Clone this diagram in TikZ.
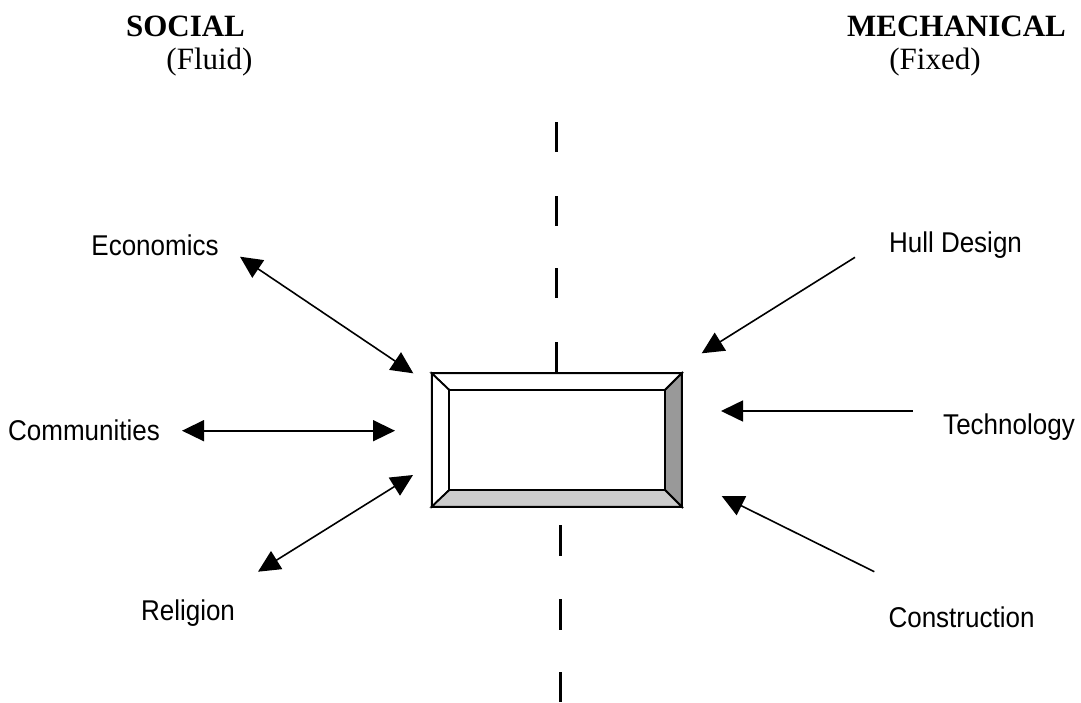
\documentclass[tikz,border=0pt]{standalone}
\usepackage{fontspec}
\setmainfont{Liberation Serif}
\newfontfamily\labelfont{Liberation Sans}
\usetikzlibrary{arrows.meta}
\definecolor{bevdark}{HTML}{999999}
\definecolor{bevlight}{HTML}{CCCCCC}
\newcommand{\tallbox}[1]{\scalebox{1}[1.1]{#1}}
\tikzset{
  lbl/.style={font=\labelfont\fontsize{26}{30}\selectfont, inner sep=0pt},
  head/.style={font=\bfseries\fontsize{31}{36}\selectfont, inner sep=0pt},
  sub/.style={font=\fontsize{31}{36}\selectfont, inner sep=0pt},
  tip/.style={Triangle[length=22pt,width=21pt]},
  conn/.style={line width=1.6pt, -{Triangle[length=22pt,width=21pt]}},
  bconn/.style={line width=1.6pt, {Triangle[length=22pt,width=21pt]}-{Triangle[length=22pt,width=21pt]}},
  divider/.style={line width=3pt},
  bevel/.style={draw=black, line width=1.8pt, line join=miter},
}
\begin{document}
\begin{tikzpicture}[x=1pt,y=-1pt]
\useasboundingbox (0,0) rectangle (1081,702);
% headings
\node[head] (social) at (185.5,26) {SOCIAL};
\node[sub] (fluid) at (209.5,62) {(Fluid)};
\node[head] (mech) at (956.5,26) {MECHANICAL};
\node[sub] (fixed) at (935,62) {(Fixed)};
% dividing line
\coordinate (u1a) at (556.7,122); \coordinate (u1b) at (556.7,152);
\coordinate (u2a) at (556.7,196); \coordinate (u2b) at (556.7,226);
\coordinate (u3a) at (556.7,268); \coordinate (u3b) at (556.7,298);
\coordinate (u4a) at (556.7,342); \coordinate (u4b) at (556.7,373);
\coordinate (l1a) at (560.7,525); \coordinate (l1b) at (560.7,556);
\coordinate (l2a) at (560.7,599); \coordinate (l2b) at (560.7,630);
\coordinate (l3a) at (560.7,672); \coordinate (l3b) at (560.7,702);
\draw[divider] (u1a) -- (u1b) (u2a) -- (u2b) (u3a) -- (u3b) (u4a) -- (u4b);
\draw[divider] (l1a) -- (l1b) (l2a) -- (l2b) (l3a) -- (l3b);
% bevelled box
\coordinate (o1) at (431.7,373.3); \coordinate (o2) at (681.7,373.3);
\coordinate (o3) at (681.7,506.7); \coordinate (o4) at (431.7,506.7);
\coordinate (i1) at (449.3,390); \coordinate (i2) at (665,390);
\coordinate (i3) at (665,490); \coordinate (i4) at (449.3,490);
\draw[bevel, fill=white] (o1) -- (o2) -- (i2) -- (i1) -- cycle;
\draw[bevel, fill=white] (o1) -- (i1) -- (i4) -- (o4) -- cycle;
\draw[bevel, fill=bevdark] (o2) -- (o3) -- (i3) -- (i2) -- cycle;
\draw[bevel, fill=bevlight] (o4) -- (i4) -- (i3) -- (o3) -- cycle;
\draw[bevel, fill=white] (i1) rectangle (i3);
\draw[line width=2.2pt] (o1) rectangle (o3);
% labels
\node[lbl] (econ) at (155,245) {\tallbox{Economics}};
\node[lbl] (comm) at (84,430) {\tallbox{Communities}};
\node[lbl] (relig) at (188,613) {\tallbox{Religion}};
\node[lbl] (hull) at (955.5,245) {\tallbox{Hull Design}};
\node[lbl] (tech) at (1009,427) {\tallbox{Technology}};
\node[lbl] (cons) at (961.5,617) {\tallbox{Construction}};
% arrow ends
\coordinate (e1) at (240,256.7); \coordinate (e2) at (413.3,373.3);
\coordinate (c1) at (182,430.7); \coordinate (c2) at (395,430.7);
\coordinate (r1) at (258,571.7); \coordinate (r2) at (413,475);
\coordinate (h1) at (855,257.3); \coordinate (h2) at (701.7,353.3);
\coordinate (t1) at (912.7,411); \coordinate (t2) at (721,411);
\coordinate (k1) at (874.3,571.7); \coordinate (k2) at (721.7,496);
\draw[bconn] (e1) -- (e2);
\draw[bconn] (c1) -- (c2);
\draw[bconn] (r1) -- (r2);
\draw[conn] (h1) -- (h2);
\draw[conn] (t1) -- (t2);
\draw[conn] (k1) -- (k2);
\end{tikzpicture}
\end{document}
